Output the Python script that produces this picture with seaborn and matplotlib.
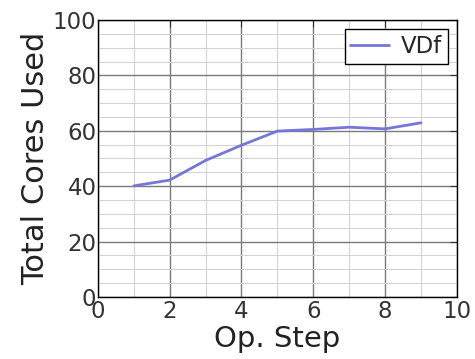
import numpy as np
import pandas as pd
import seaborn as sns
import matplotlib
matplotlib.use('Agg')
import matplotlib.pyplot as plt
from matplotlib.ticker import MultipleLocator

# values
op_step = [1, 2, 3, 4, 5, 6, 7, 8, 9]
cores_used = [40.1, 42.2, 49.3, 54.8, 59.9, 60.5, 61.3, 60.7, 62.9]
series_name = "VDf"

df = pd.DataFrame({'step': op_step, 'cores': cores_used, 'series': series_name})

sns.set_style('white')
plt.rcParams['font.family'] = ['DejaVu Sans']

fig = plt.figure(figsize=(4.75, 3.59), dpi=100)
ax = fig.add_axes([0.206, 0.173, 0.756, 0.771])

sns.lineplot(data=df, x='step', y='cores', hue='series', palette=['#7676da'],
             linewidth=2, ax=ax, legend=True)

ax.set_xlim(0, 10)
ax.set_ylim(0, 100)
ax.xaxis.set_major_locator(MultipleLocator(2))
ax.xaxis.set_minor_locator(MultipleLocator(1))
ax.yaxis.set_major_locator(MultipleLocator(20))
ax.yaxis.set_minor_locator(MultipleLocator(5))
ax.grid(which='major', color='#7a7a7a', linewidth=1.0)
ax.grid(which='minor', color='#d4d4d4', linewidth=0.8)
ax.set_axisbelow(True)

ax.tick_params(which='major', direction='in', length=5, labelsize=16.5,
               colors='#333333', top=True, right=True, pad=1)
ax.tick_params(axis='x', pad=2)
ax.tick_params(which='minor', length=0)
for sp in ax.spines.values():
    sp.set_color('black')
    sp.set_linewidth(1.0)

ax.set_xlabel('Op. Step', fontsize=21, color='#222222', labelpad=2)
ax.set_ylabel('Total Cores Used', fontsize=22, color='#222222', labelpad=2)

leg = ax.legend(loc='upper right', fontsize=16.5, fancybox=False, frameon=True,
                handlelength=1.7, borderpad=0.25, handletextpad=0.5,
                borderaxespad=0.4)
leg.get_frame().set_edgecolor('black')
leg.get_frame().set_linewidth(1.0)
leg.get_frame().set_alpha(1.0)

fig.savefig('out.png', dpi=100)
